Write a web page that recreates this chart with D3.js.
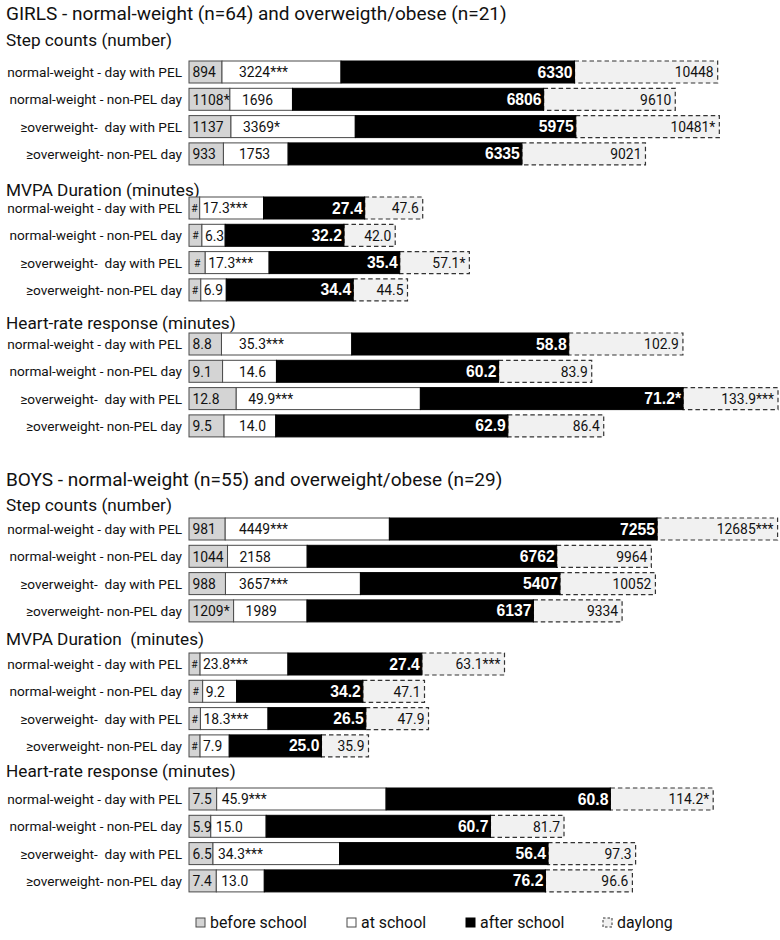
<!DOCTYPE html>
<html><head><meta charset="utf-8">
<script src="https://cdn.jsdelivr.net/npm/d3@7"></script>
<style>
body{margin:0;background:#fff;}
</style></head><body>
<svg id="c" width="780" height="940"></svg>
<script>
// ---------- DATA ----------
const groupTitles = ["GIRLS - normal-weight (n=64) and overweigth/obese (n=21)",
                     "BOYS - normal-weight (n=55) and overweight/obese (n=29)"];
const panelTitles = ["Step counts (number)", "MVPA Duration (minutes)", "Heart-rate response (minutes)",
                     "Step counts (number)", "MVPA Duration  (minutes)", "Heart-rate response (minutes)"];
const panelUnits = ["steps", "minutes", "minutes", "steps", "minutes", "minutes"];
const rowLabels = ["normal-weight - day with PEL", "normal-weight - non-PEL day",
                   "\u2265overweight-  day with PEL", "\u2265overweight- non-PEL day"];
const segmentNames = ["before school", "at school", "after school", "daylong"];

// Girls - step counts
const gStepsBefore = [894, 1108, 1137, 933];
const gStepsBeforeSig = ["", "*", "", ""];
const gStepsAt = [3224, 1696, 3369, 1753];
const gStepsAtSig = ["***", "", "*", ""];
const gStepsAfter = [6330, 6806, 5975, 6335];
const gStepsAfterSig = ["", "", "", ""];
const gStepsDay = [10448, 9610, 10481, 9021];
const gStepsDaySig = ["", "", "*", ""];
// Girls - MVPA (before-school values not printed, shown as "#")
const gMvpaBefore = [2.9, 3.5, 4.4, 3.2];
const gMvpaAt = [17.3, 6.3, 17.3, 6.9];
const gMvpaAtSig = ["***", "", "***", ""];
const gMvpaAfter = [27.4, 32.2, 35.4, 34.4];
const gMvpaAfterSig = ["", "", "", ""];
const gMvpaDay = [47.6, 42.0, 57.1, 44.5];
const gMvpaDaySig = ["", "", "*", ""];
// Girls - heart-rate response
const gHrBefore = [8.8, 9.1, 12.8, 9.5];
const gHrBeforeSig = ["", "", "", ""];
const gHrAt = [35.3, 14.6, 49.9, 14.0];
const gHrAtSig = ["***", "", "***", ""];
const gHrAfter = [58.8, 60.2, 71.2, 62.9];
const gHrAfterSig = ["", "", "*", ""];
const gHrDay = [102.9, 83.9, 133.9, 86.4];
const gHrDaySig = ["", "", "***", ""];
// Boys - step counts
const bStepsBefore = [981, 1044, 988, 1209];
const bStepsBeforeSig = ["", "", "", "*"];
const bStepsAt = [4449, 2158, 3657, 1989];
const bStepsAtSig = ["***", "", "***", ""];
const bStepsAfter = [7255, 6762, 5407, 6137];
const bStepsAfterSig = ["", "", "", ""];
const bStepsDay = [12685, 9964, 10052, 9334];
const bStepsDaySig = ["***", "", "", ""];
// Boys - MVPA
const bMvpaBefore = [3.0, 3.7, 3.1, 3.0];
const bMvpaAt = [23.8, 9.2, 18.3, 7.9];
const bMvpaAtSig = ["***", "", "***", ""];
const bMvpaAfter = [27.4, 34.2, 26.5, 25.0];
const bMvpaAfterSig = ["", "", "", ""];
const bMvpaDay = [63.1, 47.1, 47.9, 35.9];
const bMvpaDaySig = ["***", "", "", ""];
// Boys - heart-rate response
const bHrBefore = [7.5, 5.9, 6.5, 7.4];
const bHrBeforeSig = ["", "", "", ""];
const bHrAt = [45.9, 15.0, 34.3, 13.0];
const bHrAtSig = ["***", "", "***", ""];
const bHrAfter = [60.8, 60.7, 56.4, 76.2];
const bHrAfterSig = ["", "", "", ""];
const bHrDay = [114.2, 81.7, 97.3, 96.6];
const bHrDaySig = ["*", "", "", ""];

const panels = [
  {before: gStepsBefore, beforeSig: gStepsBeforeSig, at: gStepsAt, atSig: gStepsAtSig, after: gStepsAfter, afterSig: gStepsAfterSig, day: gStepsDay, daySig: gStepsDaySig, showBefore: true},
  {before: gMvpaBefore, beforeSig: null, at: gMvpaAt, atSig: gMvpaAtSig, after: gMvpaAfter, afterSig: gMvpaAfterSig, day: gMvpaDay, daySig: gMvpaDaySig, showBefore: false},
  {before: gHrBefore, beforeSig: gHrBeforeSig, at: gHrAt, atSig: gHrAtSig, after: gHrAfter, afterSig: gHrAfterSig, day: gHrDay, daySig: gHrDaySig, showBefore: true},
  {before: bStepsBefore, beforeSig: bStepsBeforeSig, at: bStepsAt, atSig: bStepsAtSig, after: bStepsAfter, afterSig: bStepsAfterSig, day: bStepsDay, daySig: bStepsDaySig, showBefore: true},
  {before: bMvpaBefore, beforeSig: null, at: bMvpaAt, atSig: bMvpaAtSig, after: bMvpaAfter, afterSig: bMvpaAfterSig, day: bMvpaDay, daySig: bMvpaDaySig, showBefore: false},
  {before: bHrBefore, beforeSig: bHrBeforeSig, at: bHrAt, atSig: bHrAtSig, after: bHrAfter, afterSig: bHrAfterSig, day: bHrDay, daySig: bHrDaySig, showBefore: true}
];
panels.forEach((p, k) => { p.title = panelTitles[k]; p.unit = panelUnits[k]; });

// ---------- LAYOUT / STYLE ----------
const X0 = 189, ROW_H = 22, PITCH = 27.3, MAXPX = 589;
const groupTitleY = [20, 486];
const layout = [
  {top: 61,  titleY: 46,  dayPx: 506, atRule: "min"},
  {top: 197, titleY: 196, dayPx: 491, atRule: "tight"},
  {top: 333, titleY: 329, dayPx: 480, atRule: "min"},
  {top: 518, titleY: 511, dayPx: 464, atRule: "min"},
  {top: 653, titleY: 645, dayPx: 500, atRule: "tight"},
  {top: 788, titleY: 777, dayPx: 459, atRule: "near"}
];
const COL = {before: "#d4d4d4", at: "#ffffff", after: "#000000", day: "#f1f1f1", stroke: "#4a4a4a", text: "#111"};
const SANS = "Roboto, Lato, 'Open Sans', sans-serif";
const BOLD = "'Liberation Sans', Arial, sans-serif";

const svg = d3.select("#c");
function measure(str, size, family, weight) {
  const t = svg.append("text").attr("font-family", family).attr("font-size", size)
    .attr("font-weight", weight || "normal").style("white-space", "pre").text(str);
  const w = t.node().getComputedTextLength(); t.remove(); return w;
}
function fit(str, target, family, weight) { return 20 * target / measure(str, 20, family, weight); }
const fsTitle = fit(groupTitles[0], 501, SANS);
const fsSub = fit(panelTitles[0], 166, SANS);
const fsRow = fit(rowLabels[0], 175, SANS);
const fsNum = fit("10448", 39, SANS);
const fsBold = fit("6330", 35, BOLD, "bold");
const fsLeg = fit(segmentNames[0], 97, SANS);

const unitDomain = {steps: 10000, minutes: 100};
const stackScale = {
  steps: d3.scaleLinear().domain([0, 10000]).range([0, 369]),
  minutes: d3.scaleLinear().domain([0, 100]).range([0, 369])
};
const fmt = {steps: d3.format("d"), minutes: d3.format(".1f")};

// group titles
groupTitles.forEach((t, g) => {
  svg.append("text").attr("x", 6).attr("y", groupTitleY[g]).attr("font-family", SANS)
    .attr("font-size", fsTitle).attr("fill", COL.text).text(t);
});

panels.forEach((p, k) => {
  const L = layout[k];
  const xs = stackScale[p.unit];
  const dom = unitDomain[p.unit];
  const xd = d3.scaleLinear().domain([0, MAXPX / L.dayPx * dom]).range([0, MAXPX]).clamp(true);
  const f = fmt[p.unit];
  const g = svg.append("g");

  g.append("text").attr("x", 6).attr("y", L.titleY).attr("font-family", SANS)
    .attr("font-size", fsSub).attr("fill", COL.text).style("white-space", "pre").text(p.title);

  const rows = d3.range(4).map(i => ({
    i, y: L.top + i * PITCH,
    b: p.before[i], a: p.at[i], af: p.after[i], d: p.day[i]
  }));

  const r = g.selectAll("g.row").data(rows).join("g").attr("class", "row");

  r.append("text").attr("x", 182).attr("y", d => d.y + ROW_H / 2 + 5)
    .attr("text-anchor", "end").attr("font-family", SANS).attr("font-size", fsRow)
    .attr("fill", COL.text).style("white-space", "pre").text(d => rowLabels[d.i]);

  // daylong box
  r.append("rect").attr("x", d => X0 + xs(d.d)).attr("y", d => d.y)
    .attr("width", d => Math.max(0, xd(d.d) - xs(d.d))).attr("height", ROW_H)
    .attr("fill", COL.day).attr("stroke", "#333").attr("stroke-width", 1.2)
    .attr("stroke-dasharray", "4.5,3");
  // before school
  r.append("rect").attr("x", X0).attr("y", d => d.y).attr("width", d => xs(d.b)).attr("height", ROW_H)
    .attr("fill", COL.before).attr("stroke", COL.stroke).attr("stroke-width", 1);
  // at school
  r.append("rect").attr("x", d => X0 + xs(d.b)).attr("y", d => d.y).attr("width", d => xs(d.a)).attr("height", ROW_H)
    .attr("fill", COL.at).attr("stroke", COL.stroke).attr("stroke-width", 1);
  // after school (fills up to the day total)
  r.append("rect").attr("x", d => X0 + xs(d.b + d.a)).attr("y", d => d.y)
    .attr("width", d => xs(d.d) - xs(d.b + d.a)).attr("height", ROW_H)
    .attr("fill", COL.after).attr("stroke", "#000").attr("stroke-width", 1);

  // labels
  const base = d => d.y + ROW_H / 2 + 5.3;
  if (p.showBefore) {
    r.append("text").attr("x", X0 + 3.5).attr("y", base).attr("font-family", SANS)
      .attr("font-size", fsNum).attr("fill", COL.text).text(d => f(d.b) + p.beforeSig[d.i]);
  } else {
    r.append("text").attr("x", d => X0 + xs(d.b) / 2).attr("y", d => d.y + ROW_H / 2 + 4)
      .attr("text-anchor", "middle").attr("font-family", SANS).attr("font-size", fsNum * 0.75)
      .attr("fill", COL.text).text("#");
  }
  const atX = d => {
    const ws = X0 + xs(d.b);
    if (L.atRule === "tight") return ws + 3;
    if (L.atRule === "near") return ws + 5;
    return Math.max(ws + 12, X0 + 50);
  };
  r.append("text").attr("x", atX).attr("y", base).attr("font-family", SANS)
    .attr("font-size", fsNum).attr("fill", COL.text).text(d => f(d.a) + p.atSig[d.i]);
  r.append("text").attr("x", d => X0 + xs(d.d) - 2).attr("y", d => d.y + ROW_H / 2 + 5.5)
    .attr("text-anchor", "end").attr("font-family", BOLD).attr("font-weight", "bold")
    .attr("font-size", fsBold).attr("fill", "#fff").text(d => f(d.af) + p.afterSig[d.i]);
  r.append("text").attr("x", d => X0 + xd(d.d) - 4).attr("y", base)
    .attr("text-anchor", "end").attr("font-family", SANS).attr("font-size", fsNum)
    .attr("fill", COL.text).text(d => f(d.d) + p.daySig[d.i]);
});

// legend
const legX = [196, 347, 466, 603];
const legStyle = [
  {fill: COL.before, stroke: COL.stroke, dash: null},
  {fill: COL.at, stroke: COL.stroke, dash: null},
  {fill: COL.after, stroke: "#000", dash: null},
  {fill: COL.day, stroke: "#333", dash: "2.5,2"}
];
const leg = svg.append("g").selectAll("g").data(segmentNames).join("g")
  .attr("transform", (d, i) => `translate(${legX[i]},918)`);
leg.append("rect").attr("width", 9).attr("height", 9)
  .attr("fill", (d, i) => legStyle[i].fill).attr("stroke", (d, i) => legStyle[i].stroke)
  .attr("stroke-width", 1).attr("stroke-dasharray", (d, i) => legStyle[i].dash);
leg.append("text").attr("x", 14).attr("y", 10).attr("font-family", SANS).attr("font-size", fsLeg)
  .attr("fill", COL.text).text(d => d);
</script>
</body></html>
